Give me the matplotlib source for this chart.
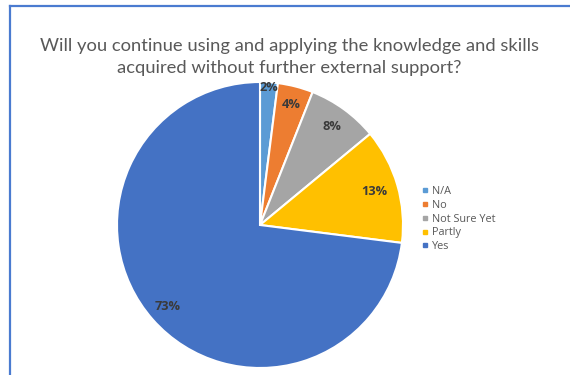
import numpy as np
import matplotlib.pyplot as plt
from matplotlib.lines import Line2D

# survey answers
labels = ["N/A", "No", "Not Sure Yet", "Partly", "Yes"]
shares = [2, 4, 8, 13, 73]
colors = ["#5B9BD5", "#ED7D31", "#A5A5A5", "#FFC000", "#4472C4"]
label_dist = [0.96, 0.87, 0.85, 0.83, 0.86]

title = ("Will you continue using and applying the knowledge and skills\n"
         "acquired without further external support?")

W, H = 570, 375
fig = plt.figure(figsize=(W / 100, H / 100), dpi=100)
fig.patch.set_facecolor("white")

# pie axes, square box around the circle
cx, cy, r = 260, 225, 143
ax = fig.add_axes([(cx - r) / W, (H - cy - r) / H, 2 * r / W, 2 * r / H])
wedges, _ = ax.pie(
    shares, colors=colors, startangle=90, counterclock=False,
    radius=1.0, wedgeprops=dict(edgecolor="white", linewidth=1.5),
)
ax.set_xlim(-1, 1)
ax.set_ylim(-1, 1)
ax.set_aspect("equal")
ax.axis("off")

# percentage labels placed along each wedge's mid angle
for w, val, d in zip(wedges, shares, label_dist):
    ang = np.deg2rad((w.theta1 + w.theta2) / 2)
    ax.text(d * np.cos(ang), d * np.sin(ang), f"{val}%",
            ha="center", va="center", fontsize=9.2, fontweight="bold",
            color="#3A3A3A", family="Open Sans")

fig.text(289 / W, 1 - 57 / H, title, ha="center", va="center",
         fontsize=13.2, color="#595959", family="Lato", linespacing=1.45)

# legend
handles = [Line2D([], [], marker="s", linestyle="none", markersize=3.5,
                  markerfacecolor=c, markeredgecolor=c) for c in colors]
fig.legend(handles, labels, loc="upper left",
           bbox_to_anchor=(422 / W, 1 - 186 / H), frameon=False,
           prop={"family": "Open Sans", "size": 7.8}, labelcolor="#595959",
           handlelength=0.6, handletextpad=0.35, labelspacing=0.26,
           borderaxespad=0, borderpad=0)

# chart frame edges
fig.add_artist(Line2D([10.5 / W, 1], [1 - 6 / H, 1 - 6 / H],
                      color="#4A7BD0", linewidth=1.6))
fig.add_artist(Line2D([10.5 / W, 10.5 / W], [0, 1 - 6 / H],
                      color="#4A7BD0", linewidth=1.6))

fig.savefig("out.png", dpi=100)
